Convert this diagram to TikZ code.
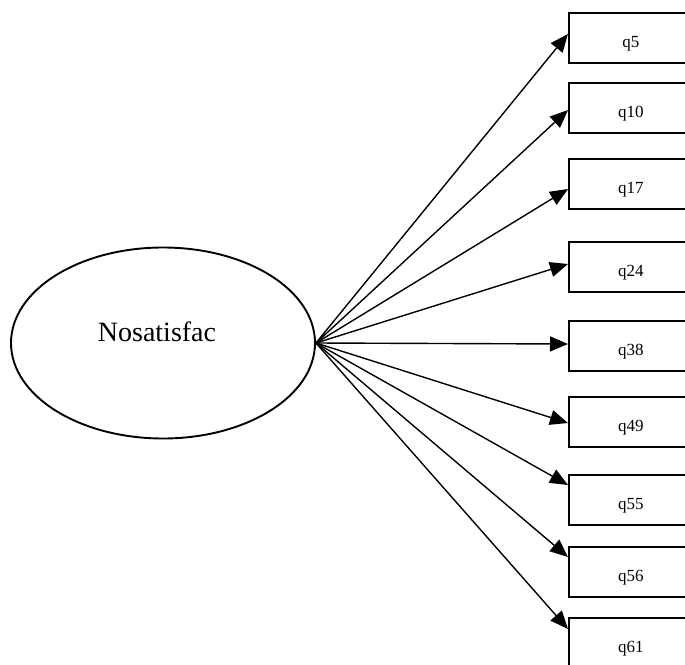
\documentclass[tikz,border=0pt]{standalone}
\usepackage{fontspec}
\setmainfont{Liberation Serif}
\usetikzlibrary{shapes.geometric,arrows.meta}
\begin{document}
\begin{tikzpicture}[x=1pt,y=-1pt,
  latent/.style={draw,line width=1.9pt,ellipse,inner sep=0pt,
    minimum width=304pt,minimum height=191pt},
  observed/.style={draw,line width=1.9pt,rectangle,inner sep=0pt,anchor=north west,
    minimum width=124pt,minimum height=50pt},
  itemtext/.style={font=\fontsize{17}{20}\selectfont},
  loading/.style={line width=1.4pt,-{Triangle[length=18pt,width=15pt]}}]
\useasboundingbox (0,0) rectangle (685,664);
\fill[white] (0,0) rectangle (685,664);

% latent factor
\node[latent,label={[xshift=-6pt,yshift=11pt,font=\fontsize{28}{32}\selectfont]center:Nosatisfac}]
  (lat) at (163,343) {};

% observed indicators: name / top edge / arrow tip offset below top
\foreach \q/\top/\tip in {q5/12/22,q10/82/28,q17/158/31,q24/241/23,q38/320/24,
                          q49/396/27,q55/474/11,q56/546/11,q61/617/12}{
  \node[observed,label={[yshift=-6pt,itemtext]center:\q}] (\q) at (568,\top) {};
  \draw[loading] (lat.east) -- ([yshift=-\tip pt]\q.north west);
}
\end{tikzpicture}
\end{document}
